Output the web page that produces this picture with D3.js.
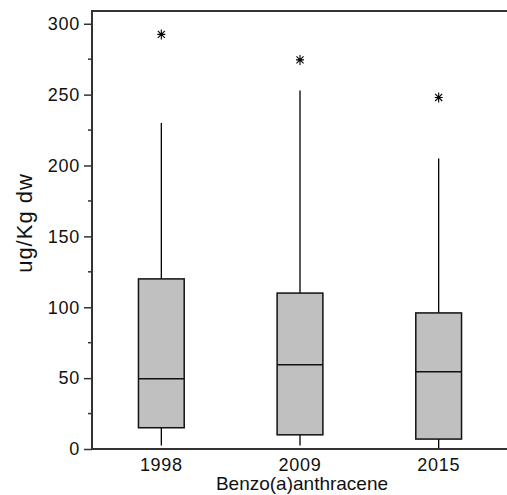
<!DOCTYPE html>
<html>
<head>
<meta charset="utf-8">
<script src="https://cdn.jsdelivr.net/npm/d3@7"></script>
<style>
  html, body { margin: 0; padding: 0; background: #fff; }
  svg { display: block; }
  text { font-family: "Liberation Sans", Arial, sans-serif; fill: #111; }
</style>
</head>
<body>
<svg id="chart" width="507" height="495"></svg>
<script>
// ---- data ----
const categories = ["1998", "2009", "2015"];
const whiskerLow  = [2.5, 2.5, 0.5];
const q1Values    = [15, 10, 7];
const medians     = [49.5, 59.5, 54.5];
const q3Values    = [120, 110, 96];
const whiskerHigh = [230, 253, 205];
const outliers    = [292.5, 274.5, 248];
const yTicks      = [0, 50, 100, 150, 200, 250, 300];
const yMinorTicks = [25, 75, 125, 175, 225, 275];
const yLabel = "ug/Kg dw";
const xLabel = "Benzo(a)anthracene";

// ---- layout ----
const svg = d3.select("#chart");
const mLeft = 92, mRight = 508, mTop = 11, mBottom = 449;
const yMax = 309;

const x = d3.scaleBand().domain(categories).range([mLeft, mRight]).padding(0);
const y = d3.scaleLinear().domain([0, yMax]).range([mBottom, mTop]);
const boxW = x.step() * 0.33;
const cx = c => x(c) + x.bandwidth() / 2;

// 8-armed asterisk symbol type
const asterisk8 = {
  draw(context, size) {
    const r = Math.sqrt(size) / 2;
    const d = r * Math.SQRT1_2;
    context.moveTo(0, -r); context.lineTo(0, r);
    context.moveTo(-r * 0.8, 0); context.lineTo(r * 0.8, 0);
    context.moveTo(-d, -d); context.lineTo(d, d);
    context.moveTo(-d, d); context.lineTo(d, -d);
  }
};

// frame top line
svg.append("line")
  .attr("x1", mLeft).attr("x2", 507).attr("y1", y(yMax)).attr("y2", y(yMax))
  .attr("stroke", "#333").attr("stroke-width", 2);

// boxes
const g = svg.append("g");
categories.forEach((c, i) => {
  const xc = cx(c);
  g.append("line")
    .attr("x1", xc).attr("x2", xc)
    .attr("y1", y(whiskerLow[i])).attr("y2", y(whiskerHigh[i]))
    .attr("stroke", "#000").attr("stroke-width", 1.3);
  g.append("rect")
    .attr("x", xc - boxW / 2).attr("width", boxW)
    .attr("y", y(q3Values[i])).attr("height", y(q1Values[i]) - y(q3Values[i]))
    .attr("fill", "#c0c0c0").attr("stroke", "#111").attr("stroke-width", 1.5);
  g.append("line")
    .attr("x1", xc - boxW / 2).attr("x2", xc + boxW / 2)
    .attr("y1", y(medians[i])).attr("y2", y(medians[i]))
    .attr("stroke", "#111").attr("stroke-width", 1.5);
  g.append("path")
    .attr("d", d3.symbol(asterisk8, 100)())
    .attr("transform", `translate(${xc},${y(outliers[i])})`)
    .attr("fill", "none").attr("stroke", "#000").attr("stroke-width", 1.1);
});

// y axis
const yAxis = svg.append("g").attr("transform", `translate(${mLeft},0)`)
  .call(d3.axisLeft(y).tickValues(yTicks).tickSize(8).tickSizeOuter(0).tickPadding(4));
yAxis.select(".domain").attr("stroke", "#333").attr("stroke-width", 2)
  .attr("d", `M0,${mBottom + 1}V${mTop - 1}`);
yAxis.selectAll(".tick line").attr("stroke", "#333").attr("stroke-width", 1.5);
yAxis.selectAll(".tick text")
  .style("font-family", '"Liberation Sans", Arial, sans-serif')
  .style("font-size", "18px").style("letter-spacing", "0.7px").attr("fill", "#111");
yAxis.selectAll(".minor").data(yMinorTicks).enter().append("line")
  .attr("class", "minor")
  .attr("x1", -4).attr("x2", 0).attr("y1", d => y(d)).attr("y2", d => y(d))
  .attr("stroke", "#333").attr("stroke-width", 1.5);

// x axis
const xAxis = svg.append("g").attr("transform", `translate(0,${mBottom})`)
  .call(d3.axisBottom(x).tickSize(0).tickSizeOuter(0).tickPadding(9));
xAxis.select(".domain").attr("stroke", "#333").attr("stroke-width", 2)
  .attr("d", `M${mLeft - 1},0H507`);
xAxis.selectAll(".tick text")
  .style("font-family", '"Liberation Sans", Arial, sans-serif')
  .style("font-size", "18px").style("letter-spacing", "0.7px").attr("fill", "#111");

// axis titles
svg.append("text")
  .attr("x", (mLeft + mRight) / 2 + 2).attr("y", 490)
  .attr("text-anchor", "middle")
  .style("font-size", "19px")
  .text(xLabel);

svg.append("text")
  .attr("transform", `translate(32,223) rotate(-90)`)
  .attr("text-anchor", "middle")
  .style("font-size", "22px").style("letter-spacing", "1px")
  .text(yLabel);
</script>
</body>
</html>
